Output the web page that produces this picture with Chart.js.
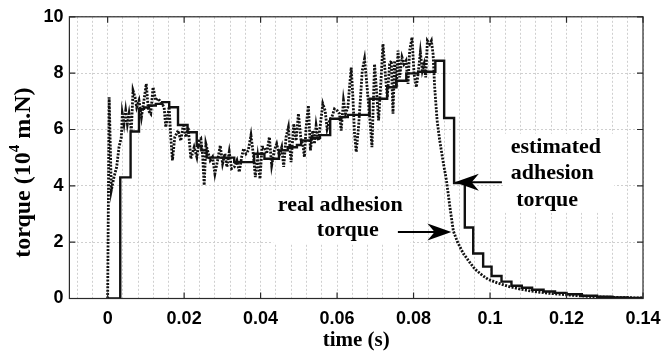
<!DOCTYPE html>
<html><head><meta charset="utf-8">
<script src="https://cdn.jsdelivr.net/npm/chart.js@4.4.0/dist/chart.umd.min.js"></script>
<style>html,body{margin:0;padding:0;background:#fff;}#wrap{width:663px;height:356px;}</style>
</head><body><div id="wrap"><canvas id="c" width="663" height="356"></canvas></div>
<script>
// ---- data ----
const realT = [0,0.0004,0.00096,0.00166,0.00236,0.00297,0.00358,0.00384,0.00428,0.00472,0.00516,0.0056,0.0062,0.00664,0.00717,0.0076,0.0082,0.00883,0.0095,0.0101,0.01066,0.01127,0.01188,0.01258,0.0132,0.0139,0.01477,0.0152,0.01608,0.01651,0.01695,0.01756,0.01844,0.01913,0.01983,0.02045,0.02106,0.02176,0.02262,0.02333,
0.02394,0.02438,0.02481,0.02525,0.02569,0.02612,0.02682,0.02743,0.02805,0.02875,0.02945,0.03006,0.03067,0.03119,0.0318,0.03242,0.03311,0.03381,0.03443,0.03504,0.03556,0.03617,0.03678,0.03748,0.03818,0.03862,0.03923,0.03984,0.04037,0.04098,0.04159,0.04229,0.0429,0.0436,0.04421,0.0449,0.04552,0.04604,0.04666,0.04727,0.04797,0.04867,0.04928,0.04989,0.05059,
0.05103,0.05146,0.0519,0.0525,0.05303,0.05364,0.05408,0.05452,0.05513,0.05565,0.05627,0.05688,0.0574,0.05801,0.05863,0.05932,0.06003,0.06063,0.06107,0.06168,0.0622,0.06283,0.06325,0.0637,0.06414,0.06456,0.065,0.06561,0.06613,0.06658,0.06718,0.06763,0.06807,0.06868,0.06912,
0.0698,0.07025,0.07085,0.07138,0.072,0.07261,0.07313,0.07374,0.07418,0.07462,0.07505,0.07549,0.07594,0.07636,0.07698,0.0775,0.07802,0.07856,0.07898,0.0796,0.08013,0.08073,0.08118,0.08178,0.0823,0.08275,0.08317,0.08362,0.08422,0.08466,0.0851,0.08552,0.08616,0.08684,
0.0878,0.0886,0.0895,0.0904,0.0915,0.093,0.0946,0.096,0.098,0.0995,0.102,0.1048,0.108,0.1109,0.115,0.12,0.125,0.13,0.135,0.14];
const realV = [0,7.14,3.84,4.31,4.67,5.37,5.73,6.56,6.2,6.67,6.2,6.56,5.96,7.38,7.14,6.79,7.03,6.44,7.03,7.62,6.67,6.56,7.5,7.03,7.1,6.97,6.79,6.08,6.8,5.73,4.9,5.73,5.96,5.6,6.2,5.73,6.08,4.96,5.37,5.02,
5.6,5.67,5.14,4.02,5.49,5.26,4.9,5.02,4.43,4.9,5.43,4.79,5.14,4.67,5.2,4.61,4.67,4.9,4.49,5.02,5.32,5.14,5.26,5.79,5.02,4.31,5.02,4.25,5.37,5.37,5.14,5.73,4.73,5.26,5.49,5.08,5.37,4.67,5.73,6.08,4.84,6.2,5.6,6.56,5.6,
5.49,5.02,6.08,6.85,5.26,5.96,5.49,6.14,5.61,6.2,6.91,6.67,6.02,6.32,6.44,6.73,6.67,6.56,5.96,7.03,6.56,6.79,7.5,8.2,7.14,5.85,5.2,6.08,7.14,8.09,8.5,7.85,7.14,6.2,5.37,
8.32,7.5,6.32,7.5,9.03,7.97,7.14,8.32,8.44,6.56,8.44,7.5,8.8,7.85,8.56,8.32,8.44,7.62,8.8,9.27,7.97,7.5,7.97,8.74,8.09,8.32,7.85,9.15,9.03,9.15,8.68,7.5,6.32,5.61,
4.8,4.2,3.25,2.4,2.0,1.6,1.3,1.05,0.82,0.68,0.55,0.43,0.33,0.26,0.19,0.13,0.08,0.05,0.03,0.02];

const estT = [0,0.0033,0.006,0.0082,0.0095,0.0108,0.0126,0.0143,0.0161,0.0184,0.0209,0.0233,0.0245,0.0259,0.0331,0.0383,0.041,0.0448,0.0471,0.0495,0.0506,0.0532,0.0555,0.0582,0.0611,0.0628,0.0685,0.0731,0.0755,0.0781,0.0812,0.0857,0.088,0.0906,0.0934,0.0956,0.0982,0.1004,0.103,0.1056,0.1083,0.111,0.114,0.117,0.12,0.124,0.128,0.132,0.136,0.14];
const estV = [0,4.3,5.93,6.73,6.78,6.85,6.91,6.97,6.79,6.16,5.9,5.42,5.26,5.0,4.84,5.14,4.96,5.26,5.37,5.45,5.61,5.7,5.8,6.38,6.44,6.52,7.09,7.5,7.73,7.99,8.05,8.44,6.41,4.1,2.52,1.6,1.13,0.8,0.6,0.45,0.38,0.31,0.25,0.2,0.15,0.1,0.06,0.04,0.02,0.01];

const yTicks = [0,2,4,6,8,10];
const xMajorTicks = [0,0.02,0.04,0.06,0.08,0.1,0.12,0.14];
const xTickLabels = ['0','0.02','0.04','0.06','0.08','0.1','0.12','0.14'];
const xTitle = 'time (s)';
const yTitleParts = ['torque (10','4',' m.N)'];
const estLabel = ['estimated','adhesion',' torque'];
const realLabel = ['real adhesion','torque'];

// minor grid positions every 0.004
const gridVals = [];
for (let i = -2; i <= 35; i++) gridVals.push(+(i*0.004).toFixed(4));

const SERIF = "'Liberation Serif','Times New Roman',serif";
const SANS = "'Liberation Sans',Arial,sans-serif";

function arrow(ctx, x0, y0, x1, y1){
  const L = 24, W = 8.5;
  const dx = x1-x0, dy = y1-y0, len = Math.hypot(dx,dy);
  const ux = dx/len, uy = dy/len, nx = -uy, ny = ux;
  ctx.beginPath(); ctx.moveTo(x0,y0); ctx.lineTo(x1-ux*L*0.6, y1-uy*L*0.6);
  ctx.lineWidth = 2; ctx.stroke();
  ctx.beginPath();
  ctx.moveTo(x1,y1);
  ctx.lineTo(x1-ux*L+nx*W, y1-uy*L+ny*W);
  ctx.lineTo(x1-ux*L*0.7, y1-uy*L*0.7);
  ctx.lineTo(x1-ux*L-nx*W, y1-uy*L-ny*W);
  ctx.closePath(); ctx.fill();
}

const deco = {
  id:'deco',
  afterDatasetsDraw(chart){
    const {ctx, chartArea:a, scales:{x, y}} = chart;
    ctx.save();
    // annotation backgrounds
    ctx.fillStyle = '#fff';
    const rx0 = x.getPixelForValue(0.0433), rx1 = x.getPixelForValue(0.0792);
    const ry0 = y.getPixelForValue(3.85), ry1 = y.getPixelForValue(1.95);
    ctx.fillRect(rx0, ry0, rx1-rx0, ry1-ry0);
    const ex0 = x.getPixelForValue(0.1038), ex1 = x.getPixelForValue(0.1325);
    const ey0 = y.getPixelForValue(5.85), ey1 = y.getPixelForValue(3.05);
    ctx.fillRect(ex0, ey0, ex1-ex0, ey1-ey0);
    // frame
    ctx.strokeStyle = '#2a2a2a'; ctx.lineWidth = 1.2;
    ctx.strokeRect(a.left, a.top, a.right-a.left, a.bottom-a.top);
    ctx.beginPath();
    xMajorTicks.forEach(v=>{const p = x.getPixelForValue(v);
      ctx.moveTo(p,a.bottom); ctx.lineTo(p,a.bottom-6); ctx.moveTo(p,a.top); ctx.lineTo(p,a.top+6);});
    yTicks.forEach(v=>{const p = y.getPixelForValue(v);
      ctx.moveTo(a.left,p); ctx.lineTo(a.left+6,p); ctx.moveTo(a.right,p); ctx.lineTo(a.right-6,p);});
    ctx.stroke();
    // annotation texts
    ctx.fillStyle = '#000'; ctx.strokeStyle = '#000';
    ctx.font = "bold 22px " + SERIF; ctx.textBaseline = 'middle'; ctx.textAlign = 'left';
    const ex = x.getPixelForValue(0.1054);
    [5.36,4.44,3.49].forEach((v,i)=> ctx.fillText(estLabel[i], ex, y.getPixelForValue(v)));
    ctx.fillText(realLabel[0], x.getPixelForValue(0.0445), y.getPixelForValue(3.31));
    ctx.fillText(realLabel[1], x.getPixelForValue(0.0547), y.getPixelForValue(2.42));
    // arrows
    arrow(ctx, x.getPixelForValue(0.1031), y.getPixelForValue(4.13), x.getPixelForValue(0.0908), y.getPixelForValue(4.13));
    arrow(ctx, x.getPixelForValue(0.0759), y.getPixelForValue(2.36), x.getPixelForValue(0.0899), y.getPixelForValue(2.36));
    // y axis title with superscript
    ctx.save();
    const cy = (a.top + a.bottom)/2 + 15;
    ctx.translate(24, cy); ctx.rotate(-Math.PI/2);
    const big = "bold 24px " + SERIF, small = "bold 15px " + SERIF;
    ctx.font = big; const w1 = ctx.measureText(yTitleParts[0]).width, w3 = ctx.measureText(yTitleParts[2]).width;
    ctx.font = small; const w2 = ctx.measureText(yTitleParts[1]).width;
    let sx = -(w1+w2+w3)/2;
    ctx.textBaseline = 'middle';
    ctx.font = big; ctx.fillText(yTitleParts[0], sx, 0); sx += w1;
    ctx.font = small; ctx.fillText(yTitleParts[1], sx, -9); sx += w2;
    ctx.font = big; ctx.fillText(yTitleParts[2], sx, 0);
    ctx.restore();
    ctx.restore();
  }
};

new Chart(document.getElementById('c'), {
  type: 'line',
  data: {
    datasets: [
      { label:'estimated adhesion torque', data: estT.map((t,i)=>({x:t, y:estV[i]})),
        borderColor:'#111', borderWidth:2.4, pointRadius:0, stepped:'before', fill:false },
      { label:'real adhesion torque', data: realT.map((t,i)=>({x:t, y:realV[i]})),
        borderColor:'#111', borderWidth:2.8, borderDash:[2,1.4], pointRadius:0, tension:0, fill:false }
    ]
  },
  options: {
    responsive:false, animation:false, devicePixelRatio:1,
    layout:{ padding:{ top:15.5, right:20, left:0, bottom:0 } },
    plugins:{ legend:{display:false}, tooltip:{enabled:false} },
    scales:{
      x:{ type:'linear', min:-0.01, max:0.14,
        afterBuildTicks:(s)=>{ s.ticks = gridVals.map(v=>({value:v})); },
        afterFit:(s)=>{ s.height = 57.5; s.paddingRight = 0; s.paddingLeft = 0; },
        ticks:{ autoSkip:false, maxRotation:0, padding:10, color:'#000',
          font:{family:SANS, size:18, weight:'bold'},
          callback:(v)=>{ const i = xMajorTicks.findIndex(m=>Math.abs(m-v)<1e-7); return i>=0 ? xTickLabels[i] : ''; } },
        grid:{ color:'#cfcfcf', lineWidth:1, drawTicks:false },
        border:{ display:false, dash:[2,2] },
        title:{ display:true, text:xTitle, color:'#000', font:{family:SERIF, size:21, weight:'bold'}, padding:{top:0, bottom:3} }
      },
      y:{ type:'linear', min:0, max:10,
        afterBuildTicks:(s)=>{ s.ticks = yTicks.map(v=>({value:v})); },
        afterFit:(s)=>{ s.width = 69.4; },
        ticks:{ padding:6, color:'#000', font:{family:SANS, size:18, weight:'bold'} },
        grid:{ color:'#cfcfcf', lineWidth:1, drawTicks:false },
        border:{ display:false, dash:[2,2] }
      }
    }
  },
  plugins:[deco]
});
</script></body></html>
